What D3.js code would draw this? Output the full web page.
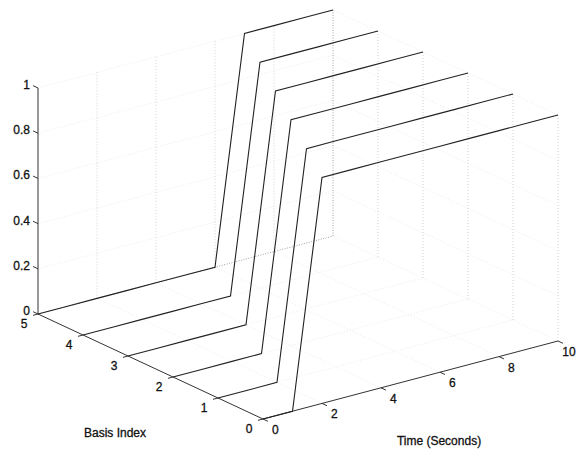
<!DOCTYPE html>
<html>
<head>
<meta charset="utf-8">
<script src="https://cdn.jsdelivr.net/npm/d3@7"></script>
<style>
  html, body { margin: 0; padding: 0; background: #fff; }
  svg { display: block; }
  text { font-family: "Liberation Sans", Arial, sans-serif; font-size: 12px; fill: #111; stroke: #111; stroke-width: 0.3px; }
</style>
</head>
<body>
<svg id="chart" width="577" height="451"></svg>
<script>
// Time samples (seconds) and basis indices
const timeSteps = [0, 1, 2, 3, 4, 5, 6, 7, 8, 9, 10];
const basisIndex = [0, 1, 2, 3, 4, 5];

// Basis function values for each index, sampled at timeSteps
const basis0 = [0, 0, 1, 1, 1, 1, 1, 1, 1, 1, 1];
const basis1 = [0, 0, 0, 1, 1, 1, 1, 1, 1, 1, 1];
const basis2 = [0, 0, 0, 0, 1, 1, 1, 1, 1, 1, 1];
const basis3 = [0, 0, 0, 0, 0, 1, 1, 1, 1, 1, 1];
const basis4 = [0, 0, 0, 0, 0, 0, 1, 1, 1, 1, 1];
const basis5 = [0, 0, 0, 0, 0, 0, 0, 1, 1, 1, 1];
const basisValues = [basis0, basis1, basis2, basis3, basis4, basis5];

// Tick values and labels
const timeTicks = [0, 2, 4, 6, 8, 10];
const indexTicks = [0, 1, 2, 3, 4, 5];
const zTicks = [0, 0.2, 0.4, 0.6, 0.8, 1];
const zTickLabels = ["0", "0.2", "0.4", "0.6", "0.8", "1"];

const W = 577;
const svg = d3.select("#chart");

// Oblique 3-D projection: each data axis contributes a screen displacement
const origin = [263, 419];
const tX = d3.scaleLinear().domain([0, 10]).range([0, 295]);
const tY = d3.scaleLinear().domain([0, 10]).range([0, -78]);
const iX = d3.scaleLinear().domain([0, 5]).range([0, -225]);
const iY = d3.scaleLinear().domain([0, 5]).range([0, -105]);
const zY = d3.scaleLinear().domain([0, 1]).range([0, -226]);

function P(t, i, z) {
  return [origin[0] + tX(t) + iX(i), origin[1] + tY(t) + iY(i) + zY(z)];
}

const path3 = d3.line().x(d => P(d[0], d[1], d[2])[0]).y(d => P(d[0], d[1], d[2])[1]);

function seg(g, a, b, stroke, dash, width) {
  g.append("path")
    .attr("d", path3([a, b]))
    .attr("fill", "none")
    .attr("stroke", stroke)
    .attr("stroke-width", width || 1)
    .attr("stroke-dasharray", dash || null);
}

const tMin = 0, tMax = 10, iMin = 0, iMax = 5, zMin = 0, zMax = 1;

// ---- grid on the back walls and floor ----
const grid = svg.append("g").attr("class", "grid");
const faint = "#ededed", mid = "#d2d2d2", dark = "#a4a4a4";

// horizontal z-levels on the two back walls
zTicks.slice(1).forEach(z => {
  seg(grid, [tMin, iMax, z], [tMax, iMax, z], faint, "1,2");
  seg(grid, [tMax, iMin, z], [tMax, iMax, z], faint, "1,2");
});
// floor grid
timeTicks.slice(1, -1).forEach(t => seg(grid, [t, iMin, zMin], [t, iMax, zMin], faint, "1,2"));
indexTicks.slice(1, -1).forEach(i => seg(grid, [tMin, i, zMin], [tMax, i, zMin], faint, "1,2"));
// vertical lines on the back walls
timeTicks.slice(1, -1).forEach(t => seg(grid, [t, iMax, zMin], [t, iMax, zMax], mid, "1,2"));
indexTicks.slice(0, -1).forEach(i => seg(grid, [tMax, i, zMin], [tMax, i, zMax], mid, "1,2"));
// back edges of the box
seg(grid, [tMax, iMax, zMin], [tMax, iMax, zMax], dark, "1,1.5");
seg(grid, [tMin, iMax, zMin], [tMax, iMax, zMin], dark, "1,1.5");
seg(grid, [tMax, iMin, zMin], [tMax, iMax, zMin], faint, "1,2");

// ---- axes ----
const axes = svg.append("g").attr("class", "axes");
const axisColor = "#333";
seg(axes, [tMin, iMin, zMin], [tMax, iMin, zMin], axisColor);   // time axis
seg(axes, [tMin, iMin, zMin], [tMin, iMax, zMin], axisColor);   // index axis
seg(axes, [tMin, iMax, zMin], [tMin, iMax, zMax], axisColor);   // z axis

// time ticks point toward the viewer (negative index direction)
timeTicks.forEach(t => {
  seg(axes, [t, iMin, zMin], [t, iMin - 0.11, zMin], axisColor);
  const p = P(t, iMin, zMin);
  const lbl = axes.append("text").attr("x", p[0] + 9).attr("y", p[1] + 15)
    .attr("text-anchor", "start").text(String(t));
  // keep the rightmost label inside the drawing area
  const bb = lbl.node().getBBox();
  if (bb.x + bb.width > W - 1) lbl.attr("x", W - 1 - bb.width);
});
// index ticks point along negative time
indexTicks.forEach(i => {
  seg(axes, [tMin, i, zMin], [tMin - 0.17, i, zMin], axisColor);
  const p = P(tMin, i, zMin);
  axes.append("text").attr("x", p[0] - 14).attr("y", p[1] + 14)
    .attr("text-anchor", "middle").text(String(i));
});
// z ticks point along positive index
zTicks.forEach((z, k) => {
  seg(axes, [tMin, iMax, z], [tMin, iMax + 0.11, z], axisColor);
  const p = P(tMin, iMax, z);
  axes.append("text").attr("x", 30).attr("y", p[1] + 1)
    .attr("text-anchor", "end").text(zTickLabels[k]);
});

// axis titles
svg.append("text").attr("x", 115).attr("y", 437).attr("text-anchor", "middle").text("Basis Index");
svg.append("text").attr("x", 439).attr("y", 445).attr("text-anchor", "middle").text("Time (Seconds)");

// ---- basis function traces, back to front ----
const traces = svg.append("g").attr("class", "traces");
basisIndex.slice().reverse().forEach(idx => {
  const pts = timeSteps.map((t, k) => [t, idx, basisValues[idx][k]]);
  traces.append("path")
    .attr("d", path3(pts))
    .attr("fill", "none")
    .attr("stroke", "#222")
    .attr("stroke-width", 1.1)
    .attr("stroke-linejoin", "miter");
});
</script>
</body>
</html>
